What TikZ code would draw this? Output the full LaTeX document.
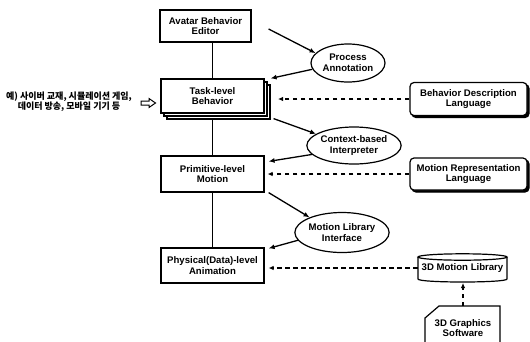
\documentclass[tikz,border=0pt]{standalone}
\usepackage{fontspec}
\setmainfont{Liberation Sans}
\newfontfamily\krfont{Noto Sans CJK KR}
\usetikzlibrary{arrows.meta,shapes.geometric,calc}
\begin{document}
\begin{tikzpicture}[x=1pt,y=-1pt,
  lbl/.style={font=\fontsize{9.6}{10.8}\selectfont\bfseries, align=center, inner sep=0pt},
  box/.style={lbl, draw, line width=1.2pt, fill=white},
  rbox/.style={box, rounded corners=4pt},
  rshadow/.style={draw, fill=black, rounded corners=4pt, line width=1.2pt, inner sep=0pt},
  oval/.style={lbl, ellipse, draw, line width=1.2pt, fill=white},
  arr/.style={line width=1.3pt, -{Latex[length=6pt,width=5pt]}},
  darr/.style={line width=1.5pt, dash pattern=on 4.5pt off 3.5pt, -{Latex[length=5pt,width=4.5pt]}},
  conn/.style={line width=1.2pt}]
\useasboundingbox (0,0) rectangle (530,341);
\fill[white] (0,0) rectangle (530,341);

% left column
\node[box, minimum width=91pt, minimum height=32pt] (avatar) at (205.5,26) {Avatar Behavior\\Editor};
\node[box, minimum width=103pt, minimum height=34pt] (task3) at (218.5,102) {};
\node[box, minimum width=103pt, minimum height=34pt] (task2) at (215.5,99) {};
\node[box, minimum width=103pt, minimum height=34pt] (task) at (212.5,96) {Task-level\\Behavior};
\node[box, minimum width=103pt, minimum height=36pt] (prim) at (212.5,174) {Primitive-level\\Motion};
\node[box, minimum width=103pt, minimum height=35pt] (phys) at (212.5,265.5) {Physical(Data)-level\\Animation};

\draw[conn] (avatar.south -| task.center) -- (task.north);
\draw[conn] (task3.south -| task.center) -- (prim.north);
\draw[conn] (prim.south) -- (phys.north);

% ellipses
\node[oval, minimum width=74pt, minimum height=38pt] (proc) at (348,63) {Process\\Annotation};
\node[oval, minimum width=84pt, minimum height=37pt] (ctx) at (354,145.5) {Context-based\\Interpreter};
\node[oval, minimum width=82pt, minimum height=40pt] (mli) at (342,232.5) {Motion Library\\Interface};

% right boxes
\node[rshadow, minimum width=117pt, minimum height=33pt] (bdls) at (470.5,101) {};
\node[rbox, minimum width=117pt, minimum height=33pt] (bdl) at (468.5,99) {Behavior Description\\Language};
\node[rshadow, minimum width=117pt, minimum height=32pt] (mrls) at (470.5,176) {};
\node[rbox, minimum width=117pt, minimum height=32pt] (mrl) at (468.5,174) {Motion Representation\\Language};

% cylinder
\coordinate (libc) at (462.5,268);
\draw[line width=1.2pt, fill=white] (418,257) -- (418,279) .. controls (418,283) and (507,283) .. (507,279) -- (507,257);
\draw[line width=1.2pt] (462.5,257) ellipse [x radius=44.5, y radius=3.2];
\node[lbl, minimum width=89pt, minimum height=22pt] (lib) at (libc) {3D Motion Library};

% 3D graphics software document
\node[lbl, minimum width=75pt, minimum height=30pt] (gfx) at (463,328) {3D Graphics\\Software};
\begin{scope}
\clip (0,0) rectangle (530,341);
\draw[line width=1.2pt] (425,346) -- (425,318) -- (439,306) -- (500,306) -- (500,346);
\end{scope}

% solid arrows
\draw[arr] ([xshift=17pt,yshift=-3pt]avatar.east) -- (proc.163);
\draw[arr] (proc.190) -- ([xshift=6pt]task.north east);
\draw[arr] ([xshift=9pt,yshift=-5pt]task.south east) -- (ctx.163);
\draw[arr] (ctx.192) -- ([xshift=4pt,yshift=-6pt]prim.north east);
\draw[arr] ([xshift=4pt]prim.south east) -- (mli.155);
\draw[arr] (mli.190) -- ([xshift=4pt,yshift=-1pt]phys.north east);

% dashed arrows
\coordinate (tx) at (278,98);
\draw[darr] (bdl.west) -- (bdl.west -| tx);
\draw[darr] (mrl.west) -- ([xshift=3pt]mrl.west -| prim.east);
\draw[darr] (lib.west) -- ([xshift=4pt]lib.west -| phys.east);
\draw[darr] (gfx.north |- 0,306) -- (gfx.north |- 0,283);

% Korean example text and hollow arrow
\node[font=\krfont\bfseries\fontsize{9}{10}\selectfont, align=center, inner sep=0pt] (ex) at (69,102)
  {예) 사이버 교재, 시뮬레이션 게임,\\데이터 방송, 모바일 기기 등};
\draw[line width=1pt, fill=white] (141,101) -- (149,101) -- (149,98.5) -- (155.5,103) -- (149,107.5) -- (149,105) -- (141,105) -- cycle;
\end{tikzpicture}
\end{document}
